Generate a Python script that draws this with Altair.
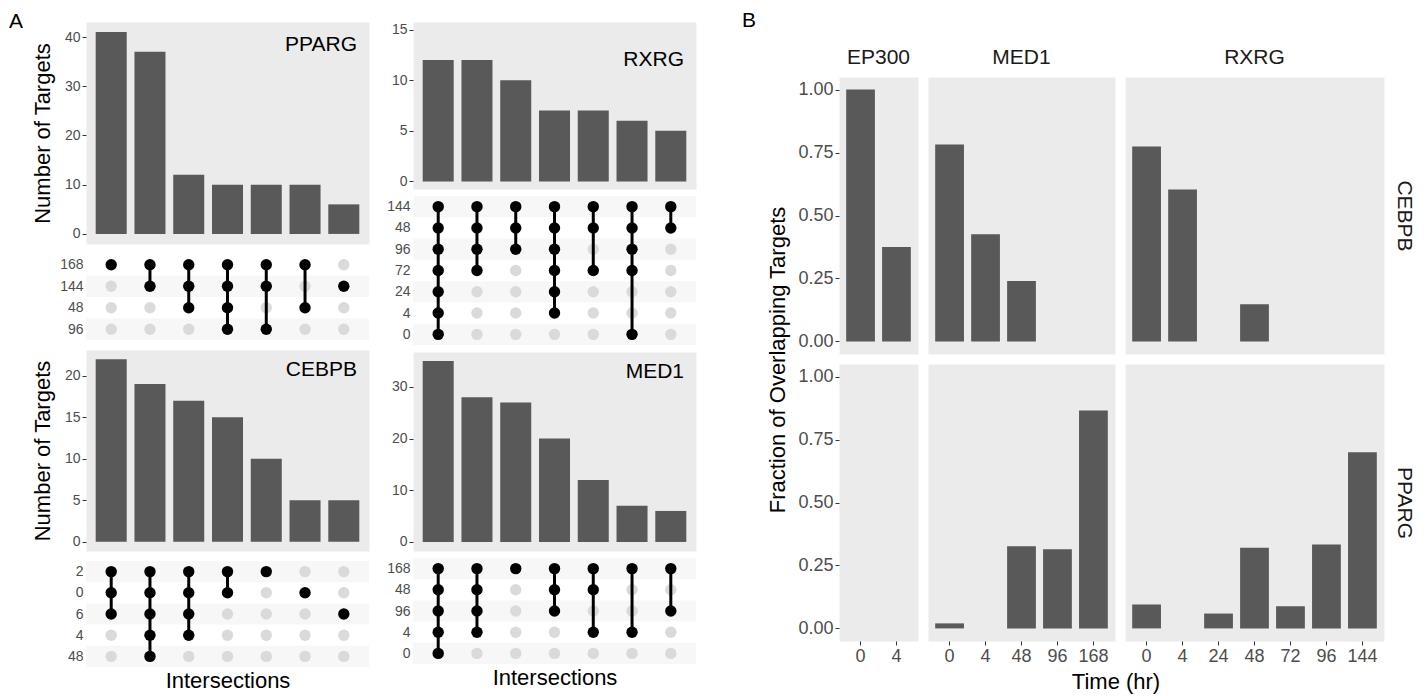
import json
import altair as alt
import pandas as pd

FONT = "Liberation Sans"
BAR_COLOR = "#595959"
PANEL_BG = "#EBEBEB"
STRIPE = "#F7F7F7"
DOT_OFF = "#DADADA"
DOT_ON = "#000000"
TICK_LABEL = "#4D4D4D"
TICK = "#333333"

# ---------------- Panel A data (UpSet plots) ----------------
PPARG_ROWS = ["168", "144", "48", "96"]
PPARG_COUNTS = [41, 37, 12, 10, 10, 10, 6]
PPARG_SETS = [["168"], ["168", "144"], ["168", "144", "48"], ["168", "144", "48", "96"],
              ["168", "144", "96"], ["168", "48"], ["144"]]
PPARG_TICKS = [0, 10, 20, 30, 40]
PPARG_TOP = 41

RXRG_ROWS = ["144", "48", "96", "72", "24", "4", "0"]
RXRG_COUNTS = [12, 12, 10, 7, 7, 6, 5]
RXRG_SETS = [["144", "48", "96", "72", "24", "4", "0"], ["144", "48", "96", "72"],
             ["144", "48", "96"], ["144", "48", "96", "72", "24", "4"],
             ["144", "48", "72"], ["144", "48", "96", "72", "0"], ["144", "48"]]
RXRG_TICKS = [0, 5, 10, 15]
RXRG_TOP = 15

CEBPB_ROWS = ["2", "0", "6", "4", "48"]
CEBPB_COUNTS = [22, 19, 17, 15, 10, 5, 5]
CEBPB_SETS = [["2", "0", "6"], ["2", "0", "6", "4", "48"], ["2", "0", "6", "4"],
              ["2", "0"], ["2"], ["0"], ["6"]]
CEBPB_TICKS = [0, 5, 10, 15, 20]
CEBPB_TOP = 22

MED1_ROWS = ["168", "48", "96", "4", "0"]
MED1_COUNTS = [35, 28, 27, 20, 12, 7, 6]
MED1_SETS = [["168", "48", "96", "4", "0"], ["168", "48", "96", "4"], ["168"],
             ["168", "48", "96"], ["168", "48", "4"], ["168", "4"], ["168", "96"]]
MED1_TICKS = [0, 10, 20, 30]
MED1_TOP = 35

# ---------------- Panel B data ----------------
B_COLS = ["EP300", "MED1", "RXRG"]
B_ROWS = ["CEBPB", "PPARG"]
TIMES_EP300 = ["0", "4"]
TIMES_MED1 = ["0", "4", "48", "96", "168"]
TIMES_RXRG = ["0", "4", "24", "48", "72", "96", "144"]
CEBPB_EP300 = [1.00, 0.375]
CEBPB_MED1 = [0.782, 0.426, 0.240, 0.0, 0.0]
CEBPB_RXRG = [0.774, 0.603, 0.0, 0.148, 0.0, 0.0, 0.0]
PPARG_EP300 = [0.0, 0.0]
PPARG_MED1 = [0.020, 0.0, 0.326, 0.314, 0.865]
PPARG_RXRG = [0.095, 0.0, 0.059, 0.320, 0.088, 0.333, 0.700]
B_YTICKS = [0, 0.25, 0.5, 0.75, 1.0]


def one_text(text, x, y, size, **kw):
    return alt.Chart(pd.DataFrame({"t": [text]})).mark_text(
        fontSize=size, font=FONT, **kw
    ).encode(text="t:N", x=alt.value(x), y=alt.value(y))


def upset_bars(name, counts, ticks, top, width, height, ytitle, label_y, extra=()):
    inter = [f"I{i + 1}" for i in range(len(counts))]
    df = pd.DataFrame({"inter": inter, "count": counts})
    xs = alt.Scale(domain=inter, paddingInner=0.2, paddingOuter=0.25)
    ys = alt.Scale(domain=[-0.05 * top, 1.05 * top], nice=False, zero=False)
    axis_kw = dict(values=ticks, grid=False, domain=False, tickSize=4, tickColor=TICK,
                   labelFontSize=14, labelColor=TICK_LABEL, labelPadding=2)
    if ytitle:
        yaxis = alt.Axis(title=ytitle, titleFontSize=22, titleFontWeight="normal",
                         titleColor="#000000", titlePadding=10, **axis_kw)
    else:
        yaxis = alt.Axis(title=None, **axis_kw)
    bars = alt.Chart(df).mark_bar(color=BAR_COLOR).encode(
        x=alt.X("inter:N", scale=xs, axis=None),
        y=alt.Y("count:Q", scale=ys, axis=yaxis),
        y2=alt.datum(0),
    )
    label = one_text(name, width - 12, label_y, 21, align="right", baseline="middle",
                     color="#000000")
    return alt.layer(bars, label, *extra).properties(
        width=width, height=height,
        view=alt.ViewBackground(fill=PANEL_BG, stroke="transparent"),
    )


def upset_matrix(rows, sets, width, height, xtitle):
    n = len(rows)
    inter = [f"I{j + 1}" for j in range(len(sets))]
    xs = alt.Scale(domain=inter, paddingInner=0.2, paddingOuter=0.25)
    ys = alt.Scale(domain=[n - 0.5, -0.5], nice=False, zero=False)
    yaxis = alt.Axis(values=list(range(n)), labelExpr=f"{json.dumps(rows)}[datum.value]",
                     title=None, ticks=False, domain=False, grid=False,
                     labelFontSize=14, labelColor=TICK_LABEL, labelPadding=3)
    if xtitle:
        xaxis = alt.Axis(title=xtitle, labels=False, ticks=False, domain=False, grid=False,
                         titleFontSize=22, titleFontWeight="normal", titleColor="#000000",
                         titlePadding=3)
    else:
        xaxis = None

    stripe_idx = [i for i in range(n) if (n - 1 - i) % 2 == 0]
    stripes_df = pd.DataFrame({"lo": [i - 0.5 for i in stripe_idx],
                               "hi": [i + 0.5 for i in stripe_idx]})
    on_x, on_y, off_x, off_y = [], [], [], []
    rule_x, rule_lo, rule_hi = [], [], []
    for j, s in enumerate(sets):
        idxs = []
        for i, r in enumerate(rows):
            if r in s:
                on_x.append(inter[j]); on_y.append(i); idxs.append(i)
            else:
                off_x.append(inter[j]); off_y.append(i)
        rule_x.append(inter[j]); rule_lo.append(min(idxs)); rule_hi.append(max(idxs))

    stripes = alt.Chart(stripes_df).mark_rect(color=STRIPE).encode(
        x=alt.value(0), x2=alt.value(width),
        y=alt.Y("lo:Q", scale=ys, axis=yaxis), y2="hi:Q",
    )
    off = alt.Chart(pd.DataFrame({"inter": off_x, "row": off_y})).mark_circle(
        color=DOT_OFF, opacity=1, size=130
    ).encode(x=alt.X("inter:N", scale=xs, axis=xaxis),
             y=alt.Y("row:Q", scale=ys, axis=yaxis))
    rules = alt.Chart(pd.DataFrame({"inter": rule_x, "lo": rule_lo, "hi": rule_hi})).mark_rule(
        color=DOT_ON, strokeWidth=3
    ).encode(x=alt.X("inter:N", scale=xs, axis=xaxis),
             y=alt.Y("lo:Q", scale=ys, axis=yaxis), y2="hi:Q")
    on = alt.Chart(pd.DataFrame({"inter": on_x, "row": on_y})).mark_circle(
        color=DOT_ON, opacity=1, size=130
    ).encode(x=alt.X("inter:N", scale=xs, axis=xaxis),
             y=alt.Y("row:Q", scale=ys, axis=yaxis))
    return alt.layer(stripes, off, rules, on).properties(
        width=width, height=height,
        view=alt.ViewBackground(fill="#FFFFFF", stroke="transparent"),
    )


W_A = 283
letter_a = one_text("A", -77, 0, 21, align="left", baseline="middle", color="#000000")
spacer = one_text("A", 0, 0, 21, align="left", baseline="middle", opacity=0)

pparg_bars = upset_bars("PPARG", PPARG_COUNTS, PPARG_TICKS, PPARG_TOP, W_A, 222,
                        "Number of Targets", 23, extra=(letter_a,))
pparg_mat = upset_matrix(PPARG_ROWS, PPARG_SETS, W_A, 86, None)
cebpb_bars = upset_bars("CEBPB", CEBPB_COUNTS, CEBPB_TICKS, CEBPB_TOP, W_A, 201,
                        "Number of Targets", 20)
cebpb_mat = upset_matrix(CEBPB_ROWS, CEBPB_SETS, W_A, 106, "Intersections")

rxrg_bars = upset_bars("RXRG", RXRG_COUNTS, RXRG_TICKS, RXRG_TOP, W_A, 167, None, 38,
                       extra=(spacer,))
rxrg_mat = upset_matrix(RXRG_ROWS, RXRG_SETS, W_A, 149, None)
med1_bars = upset_bars("MED1", MED1_COUNTS, MED1_TICKS, MED1_TOP, W_A, 199, None, 20)
med1_mat = upset_matrix(MED1_ROWS, MED1_SETS, W_A, 106, "Intersections")

col_a1 = alt.vconcat(pparg_bars, pparg_mat, cebpb_bars, cebpb_mat, spacing=10, bounds="flush")
col_a2 = alt.vconcat(rxrg_bars, rxrg_mat, med1_bars, med1_mat, spacing=7, bounds="flush")
panel_a = alt.hconcat(col_a1, col_a2, spacing=16)


def b_width(times):
    return round(36 * (len(times) - 0.2 + 0.4))


def b_chart(times, values, col_name, row_name, first_col, last_col, top_row, extra=()):
    df = pd.DataFrame({"time": times, "value": values})
    xs = alt.Scale(domain=times, paddingInner=0.2, paddingOuter=0.2)
    ys = alt.Scale(domain=[-0.05, 1.05], nice=False, zero=False)
    if top_row:
        xaxis = None
    else:
        xaxis = alt.Axis(title=None, labelAngle=0, labelFontSize=18, labelColor=TICK_LABEL,
                         tickColor=TICK, tickSize=4, labelPadding=2, domain=False, grid=False)
    if first_col:
        yaxis = alt.Axis(values=B_YTICKS, format=".2f", title=None, labelFontSize=18,
                         labelColor=TICK_LABEL, tickColor=TICK, tickSize=4, labelPadding=2,
                         domain=False, grid=False)
    elif last_col:
        yaxis = alt.Axis(orient="right", title=row_name, labels=False, ticks=False,
                         domain=False, grid=False, titleAngle=90, titleFontSize=21,
                         titleFontWeight="normal", titleColor="#1A1A1A", titlePadding=9)
    else:
        yaxis = None
    bars = alt.Chart(df).mark_bar(color=BAR_COLOR).encode(
        x=alt.X("time:N", scale=xs, axis=xaxis),
        y=alt.Y("value:Q", scale=ys, axis=yaxis),
        y2=alt.datum(0),
    )
    props = dict(width=b_width(times), height=277,
                 view=alt.ViewBackground(fill=PANEL_BG, stroke="transparent"))
    if top_row:
        props["title"] = alt.TitleParams(col_name, fontSize=21, fontWeight="normal",
                                         color="#1A1A1A", offset=9, anchor="middle")
    return alt.layer(bars, *extra).properties(**props)


def header_cell(times, extra=()):
    blank = one_text("", 0, 0, 10)
    return alt.layer(blank, *extra).properties(
        width=b_width(times), height=45,
        view=alt.ViewBackground(fill="transparent", stroke="transparent"),
    )


letter_b = one_text("B", -97, -1.5, 21, align="left", baseline="middle", color="#000000")
y_title = one_text("Fraction of Overlapping Targets", -61, -4, 22, align="center",
                   baseline="middle", angle=270, color="#000000")
x_title = one_text("Time (hr)", 188, 318, 22, align="center", baseline="middle",
                   color="#000000")

h1 = header_cell(TIMES_EP300, extra=(letter_b,))
h2 = header_cell(TIMES_MED1)
h3 = header_cell(TIMES_RXRG)
b1 = b_chart(TIMES_EP300, CEBPB_EP300, "EP300", "CEBPB", True, False, True)
b2 = b_chart(TIMES_MED1, CEBPB_MED1, "MED1", "CEBPB", False, False, True)
b3 = b_chart(TIMES_RXRG, CEBPB_RXRG, "RXRG", "CEBPB", False, True, True)
b4 = b_chart(TIMES_EP300, PPARG_EP300, "EP300", "PPARG", True, False, False, extra=(y_title,))
b5 = b_chart(TIMES_MED1, PPARG_MED1, "MED1", "PPARG", False, False, False, extra=(x_title,))
b6 = b_chart(TIMES_RXRG, PPARG_RXRG, "RXRG", "PPARG", False, True, False)

panel_b = alt.concat(h1, h2, h3, b1, b2, b3, b4, b5, b6, columns=3, bounds="flush",
                     spacing=10, align="each")

chart = alt.hconcat(panel_a, panel_b, spacing=44).properties(
    padding={"left": 0, "top": 1, "right": 0, "bottom": 0}
).configure(font=FONT).configure_view(stroke="transparent")

chart.save("out.html", embed_options={"renderer": "svg", "actions": False})
